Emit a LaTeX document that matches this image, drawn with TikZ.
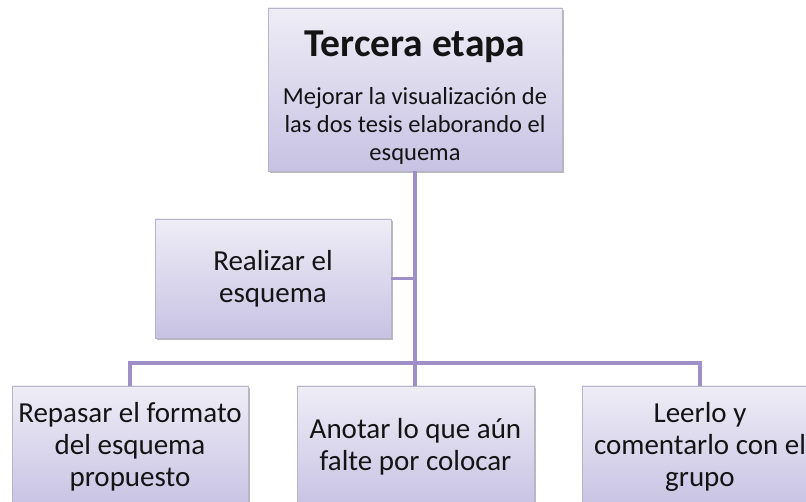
\documentclass[tikz,border=0pt]{standalone}
\usepackage{fontspec}
\setmainfont{Carlito}
\usepackage{tikz}
\usetikzlibrary{shadows}

\definecolor{boxtop}{HTML}{EEEDF6}
\definecolor{boxbot}{HTML}{C8C2E3}
\definecolor{boxline}{HTML}{B8B4C8}
\definecolor{linkcol}{HTML}{9E8FC8}

\begin{document}
\begin{tikzpicture}[
    x=1pt, y=-1pt,
    box/.style={draw=boxline, line width=0.8pt, top color=boxtop, bottom color=boxbot,
      drop shadow={shadow xshift=1.5pt, shadow yshift=-2pt, fill=black!45, opacity=0.6},
      inner sep=0pt, align=center, text=black!92},
    txt/.style={align=center, inner sep=0pt, text=black!92},
    link/.style={draw=linkcol, line width=3.2pt}
  ]
    \clip (0,0) rectangle (806,502);
    \fill[white] (0,0) rectangle (806,502);
    % main box
    \node[box, minimum width=294pt, minimum height=163pt] (top) at (415,89.5) {};
    \node[txt, font=\fontsize{39.5}{42}\selectfont\bfseries] (title) at (415,47) {Tercera etapa};
    \node[txt, font=\fontsize{24.5}{28}\selectfont] (goal) at (415,126)
      {Mejorar la visualización de\\las dos tesis elaborando el\\esquema};
    % side box
    \node[box, minimum width=236pt, minimum height=119pt, font=\fontsize{29}{32}\selectfont] (side) at (273,278.5)
      {Realizar el\\esquema};
    % lower boxes
    \node[box, minimum width=236pt, minimum height=122pt, font=\fontsize{29}{32}\selectfont] (one) at (130,447)
      {Repasar el formato\\del esquema\\propuesto};
    \node[box, minimum width=237pt, minimum height=122pt, font=\fontsize{29}{32}\selectfont] (two) at (415.5,447)
      {Anotar lo que aún\\falte por colocar};
    \node[box, minimum width=236pt, minimum height=122pt, font=\fontsize{29}{32}\selectfont] (three) at (700,447)
      {Leerlo y\\comentarlo con el\\grupo};
    % connectors
    \coordinate (hub) at (top.south |- one.north);
    \coordinate (bar) at (top.south |- 0,363);
    \draw[link] (top.south) -- (hub);
    \draw[link] (side.east) -- (side.east -| top.south);
    \draw[link] (one.north) |- (bar) -| (three.north);
  \end{tikzpicture}
\end{document}
